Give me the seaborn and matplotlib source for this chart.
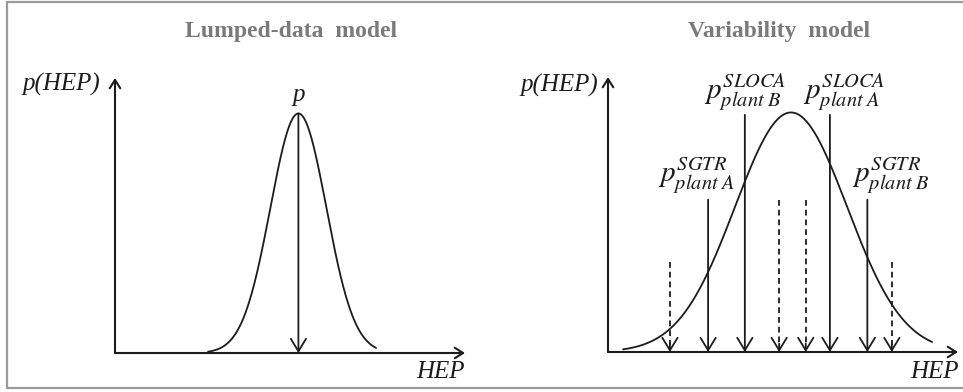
import numpy as np
import pandas as pd
import matplotlib
matplotlib.use("Agg")
import matplotlib.pyplot as plt
from matplotlib.lines import Line2D
import seaborn as sns

# ---- model parameters (HEP axis in relative units, 0..1) ----
lumped_mean = 0.524
lumped_sd = 0.08
lumped_span = [0.266, 0.746]

variability_mean = 0.523
variability_sd = 0.16
variability_span = [0.043, 0.926]

# plant/scenario-specific estimates shown with labels (solid arrows)
plant_names = ["SGTR|plant A", "SLOCA|plant B", "SLOCA|plant A", "SGTR|plant B"]
plant_hep = [0.286, 0.391, 0.634, 0.741]
plant_top = [0.636, 0.99, 0.99, 0.636]

# other, unlabelled estimates (dashed arrows)
other_hep = [0.177, 0.489, 0.565, 0.811]
other_top = [0.377, 0.636, 0.636, 0.377]

W, H = 963, 392
INK = "#1c1c1c"
YTOP = 1.148

sns.set_theme(style="white")
plt.rcParams["font.family"] = ["Liberation Serif", "DejaVu Serif"]
plt.rcParams["mathtext.fontset"] = "stix"

fig = plt.figure(figsize=(W / 100, H / 100), dpi=100)
fig.patch.set_facecolor("white")


def fx(x):
    return x / W


def fy(y):
    return 1 - y / H


def bell(mean, sd, span):
    x = np.linspace(span[0], span[1], 400)
    y = np.exp(-0.5 * ((x - mean) / sd) ** 2)
    return pd.DataFrame({"HEP": x, "density": y})


def make_axes(left, base, width=350, height=275):
    ax = fig.add_axes([fx(left), fy(base), width / W, height / H])
    ax.set_xlim(0, 1)
    ax.set_ylim(0, YTOP)
    ax.set_axis_off()
    axis_head = dict(arrowstyle="->,head_length=0.6,head_width=0.38",
                     lw=1.5, color=INK, shrinkA=0, shrinkB=0, mutation_scale=10)
    ax.annotate("", xy=(1, 0), xytext=(0, 0), xycoords="axes fraction",
                textcoords="axes fraction", arrowprops=axis_head)
    ax.annotate("", xy=(0, 1), xytext=(0, 0), xycoords="axes fraction",
                textcoords="axes fraction", arrowprops=axis_head)
    return ax


def down_arrow(ax, x, top, dashed=False):
    head = "->,head_length=0.9,head_width=0.55"
    if dashed:
        ax.plot([x, x], [top, 0.03], color=INK, lw=1.3, ls=(0, (3.2, 2.2)))
        ax.annotate("", xy=(x, 0), xytext=(x, 0.035),
                    arrowprops=dict(arrowstyle=head, lw=1.3, color=INK,
                                    shrinkA=0, shrinkB=0, mutation_scale=10))
    else:
        ax.annotate("", xy=(x, 0), xytext=(x, top),
                    arrowprops=dict(arrowstyle=head, lw=1.3, color=INK,
                                    shrinkA=0, shrinkB=0, mutation_scale=10))


# ---- left panel: lumped-data model ----
axL = make_axes(115, 353)
sns.lineplot(data=bell(lumped_mean, lumped_sd, lumped_span), x="HEP", y="density",
             ax=axL, color=INK, lw=1.3, sort=False)
down_arrow(axL, lumped_mean, 1.0)

# ---- right panel: variability model ----
axR = make_axes(608, 352)
sns.lineplot(data=bell(variability_mean, variability_sd, variability_span), x="HEP",
             y="density", ax=axR, color=INK, lw=1.3, sort=False)
for x, top in zip(plant_hep, plant_top):
    down_arrow(axR, x, top)
for x, top in zip(other_hep, other_top):
    down_arrow(axR, x, top, dashed=True)

# labels of the plant-specific estimates
label_pos = [(697, 176), (745, 92), (844, 92), (891, 176)]
for name, (px, py) in zip(plant_names, label_pos):
    sup, sub = name.split("|")
    sub = sub.replace(" ", r"\ ")
    fig.text(fx(px), fy(py), rf"$p^{{\mathit{{{sup}}}}}_{{\mathit{{{sub}}}}}$",
             ha="center", va="center", fontsize=21, color=INK)

# ---- titles and axis labels ----
title_kw = dict(ha="center", va="center", fontsize=17, fontweight="bold", color="#7a7a7a")
fig.text(fx(291), fy(31), "Lumped-data  model", **title_kw)
fig.text(fx(779), fy(31), "Variability  model", **title_kw)

lab_kw = dict(ha="center", va="center", fontsize=18, style="italic", color=INK)
fig.text(fx(61), fy(84), "p(HEP)", **lab_kw)
fig.text(fx(559), fy(85), "p(HEP)", **lab_kw)
fig.text(fx(441), fy(372), "HEP", **lab_kw)
fig.text(fx(935), fy(372), "HEP", **lab_kw)
fig.text(fx(299), fy(95), "p", **lab_kw)

# thin frame round the figure (left, top and bottom edges)
frame = dict(color="#9a9a9a", lw=1.6, transform=fig.transFigure)
fig.add_artist(Line2D([fx(7), fx(7)], [fy(2), fy(388)], **frame))
fig.add_artist(Line2D([fx(7), 1], [fy(2), fy(2)], **frame))
fig.add_artist(Line2D([fx(7), 1], [fy(388), fy(388)], **frame))

fig.savefig("out.png", dpi=100)
